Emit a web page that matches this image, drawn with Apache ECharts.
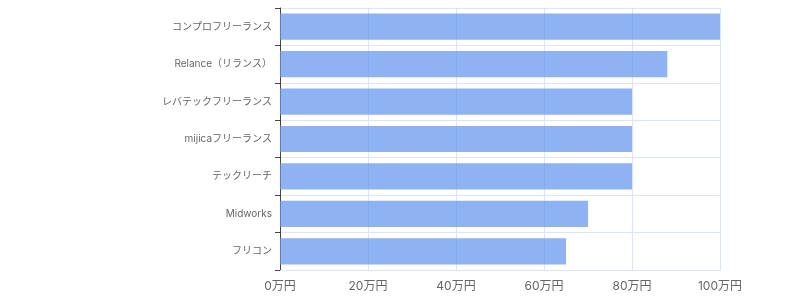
<!DOCTYPE html>
<html><head><meta charset="utf-8">
<script src="https://cdn.jsdelivr.net/npm/echarts@6/dist/echarts.min.js"></script>
<style>html,body{margin:0;padding:0;background:#fff}#c{width:800px;height:300px}</style>
</head><body><div id="c"></div>
<script>
const categories = ['コンプロフリーランス','Relance（リランス）','レバテックフリーランス','mijicaフリーランス','テックリーチ','Midworks','フリコン'];
const values = [100, 88, 80, 80, 80, 70, 65];
const xTicks = [0, 20, 40, 60, 80, 100];

const FONT = 'Inter, "Noto Sans CJK JP", sans-serif';
const chart = echarts.init(document.getElementById('c'), null, {renderer:'canvas'});
chart.setOption({
  animation: false,
  grid: {left: 280, right: 80, top: 8, bottom: 30},
  xAxis: {
    type: 'value', min: xTicks[0], max: xTicks[xTicks.length-1], interval: xTicks[1]-xTicks[0],
    axisLine: {show: true, lineStyle: {color: '#dde4f2'}},
    axisTick: {show: false},
    splitLine: {show: true, lineStyle: {color: '#dde4f2'}},
    axisLabel: {color: '#666', fontSize: 12, margin: 10, fontFamily: FONT,
      formatter: v => v + '万円'}
  },
  yAxis: {
    type: 'category', inverse: true, data: categories,
    axisLine: {show: true, lineStyle: {color: '#444'}},
    axisTick: {show: true, length: 5, lineStyle: {color: '#444'}},
    splitLine: {show: true, lineStyle: {color: '#dde4f2'}},
    axisLabel: {color: '#666', fontSize: 10, margin: 8, fontFamily: FONT}
  },
  series: [{
    type: 'bar', data: values, barWidth: '70%',
    itemStyle: {color: 'rgba(100,149,237,0.72)'}
  }]
});
</script></body></html>
